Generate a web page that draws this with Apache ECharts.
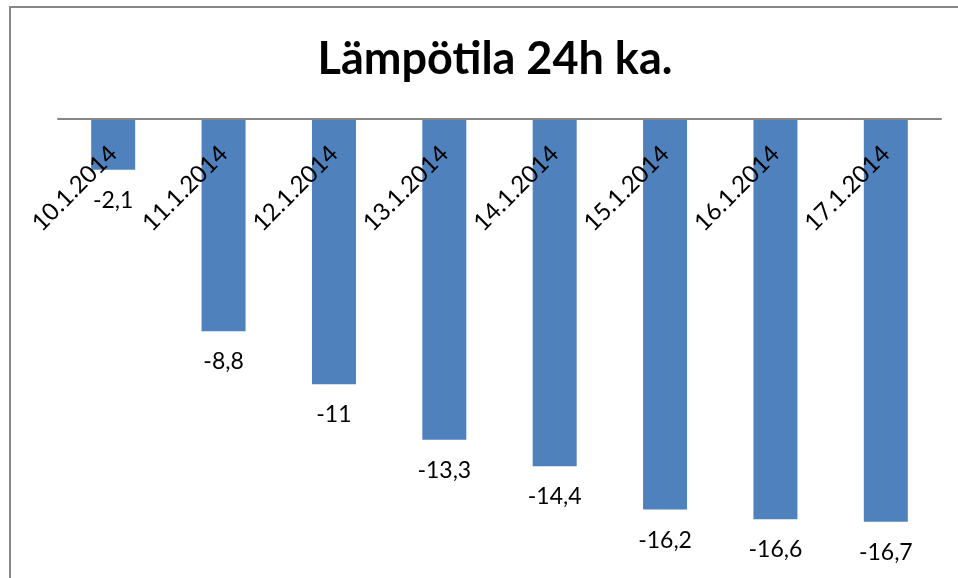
<!DOCTYPE html>
<html>
<head>
<meta charset="utf-8">
<script src="https://cdn.jsdelivr.net/npm/echarts@6/dist/echarts.min.js"></script>
<style>
html,body{margin:0;padding:0;background:#fff;}
#frame{position:absolute;left:9px;top:6px;width:960px;height:600px;border:2px solid #868686;box-sizing:border-box;}
#chart{position:absolute;left:0;top:0;width:958px;height:578px;}
</style>
</head>
<body>
<div id="frame"></div>
<div id="chart"></div>
<script>
const titleText = 'Lämpötila 24h ka.';
const categories = ['10.1.2014','11.1.2014','12.1.2014','13.1.2014','14.1.2014','15.1.2014','16.1.2014','17.1.2014'];
const temperatures = [-2.1, -8.8, -11, -13.3, -14.4, -16.2, -16.6, -16.7];

const chart = echarts.init(document.getElementById('chart'), null, {renderer:'canvas'});
const fontFam = 'Lato, "Noto Sans", sans-serif';
chart.setOption({
  animation: false,
  backgroundColor: 'transparent',
  title: {
    text: titleText,
    left: 490,
    textAlign: 'center',
    top: 32,
    textStyle: {fontFamily: fontFam, fontWeight: 'bold', fontSize: 45, color: '#000'}
  },
  grid: {left: 58, right: 17, top: 119, bottom: 25, outerBoundsMode: 'none', containLabel: false},
  xAxis: {
    type: 'category',
    data: categories,
    position: 'top',
    z: 10,
    axisLine: {onZero: false, lineStyle: {color: '#868686', width: 2}},
    axisTick: {show: false},
    axisLabel: {inside: true, rotate: -45, align: 'right', verticalAlign: 'middle', margin: 31, fontFamily: fontFam, fontSize: 24, color: '#000', interval: 0}
  },
  yAxis: {
    type: 'value',
    min: -18,
    max: 0,
    show: false,
    splitLine: {show: false}
  },
  series: [{
    type: 'bar',
    data: temperatures,
    barWidth: 44,
    itemStyle: {color: '#4F81BD'},
    label: {
      show: true,
      position: 'bottom',
      distance: 19,
      fontFamily: fontFam,
      fontSize: 23,
      color: '#000',
      formatter: p => String(p.value).replace('.', ',')
    }
  }]
});
</script>
</body>
</html>
